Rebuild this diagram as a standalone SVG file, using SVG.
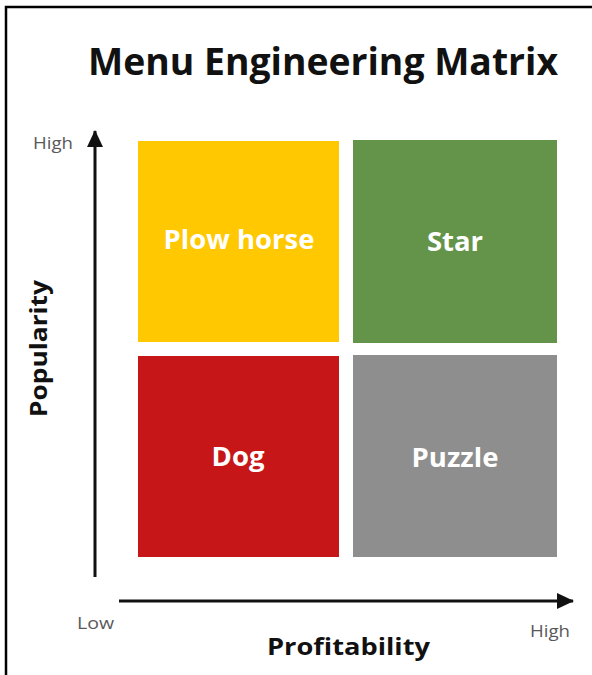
<svg xmlns="http://www.w3.org/2000/svg" width="592" height="675" viewBox="0 0 592 675">
  <style>
    .title { font-family: "Open Sans", "Liberation Sans", sans-serif; font-weight: 700; font-size: 37px; fill: #111111; }
    .axis-title { font-family: "Open Sans", "Liberation Sans", sans-serif; font-weight: 700; font-size: 24px; fill: #111111; }
    .tick { font-family: "Open Sans", "Liberation Sans", sans-serif; font-size: 17px; fill: #595959; }
    .cell-label { font-family: "Open Sans", "Liberation Sans", sans-serif; font-weight: 700; font-size: 27.5px; fill: #ffffff; text-anchor: middle; }
    .axis { stroke: #111111; stroke-width: 3; fill: none; }
  </style>
  <defs>
    <marker id="arrow" markerUnits="userSpaceOnUse" markerWidth="18" markerHeight="18" refX="16" refY="8" orient="auto">
      <path d="M0,0 L17,8 L0,16 Z" fill="#111111"/>
    </marker>
  </defs>
  <rect width="592" height="675" fill="#ffffff"/>
  <g id="frame">
    <path d="M6,675 L6,7 L592,7" stroke="#000000" stroke-width="2.5" fill="none"/>
  </g>
  <g id="title">
    <text class="title" x="88" y="75" textLength="470" lengthAdjust="spacingAndGlyphs">Menu Engineering Matrix</text>
  </g>
  <g id="connectors">
    <line class="axis" x1="95" y1="577" x2="95" y2="131" marker-end="url(#arrow)"/>
    <line class="axis" x1="119" y1="601" x2="573" y2="601" marker-end="url(#arrow)"/>
  </g>
  <g id="axis-labels">
    <text class="tick" x="33" y="149" textLength="40" lengthAdjust="spacingAndGlyphs">High</text>
    <text class="tick" x="77" y="629" textLength="37" lengthAdjust="spacingAndGlyphs">Low</text>
    <text class="tick" x="530" y="637" textLength="40" lengthAdjust="spacingAndGlyphs">High</text>
    <text class="axis-title" x="267" y="655" textLength="163" lengthAdjust="spacingAndGlyphs">Profitability</text>
    <text class="axis-title" transform="translate(47,417) rotate(-90)" x="0" y="0" textLength="137" lengthAdjust="spacingAndGlyphs">Popularity</text>
  </g>
  <g id="plow-horse">
    <rect x="138" y="141" width="201" height="201" fill="#FFC800"/>
    <text class="cell-label" x="239" y="249">Plow horse</text>
  </g>
  <g id="star">
    <rect x="353" y="140" width="204" height="203" fill="#64934A"/>
    <text class="cell-label" x="455" y="251">Star</text>
  </g>
  <g id="dog">
    <rect x="138" y="356" width="201" height="201" fill="#C71618"/>
    <text class="cell-label" x="238" y="466">Dog</text>
  </g>
  <g id="puzzle">
    <rect x="353" y="355" width="204" height="202" fill="#8E8E8E"/>
    <text class="cell-label" x="455" y="467">Puzzle</text>
  </g>
</svg>
